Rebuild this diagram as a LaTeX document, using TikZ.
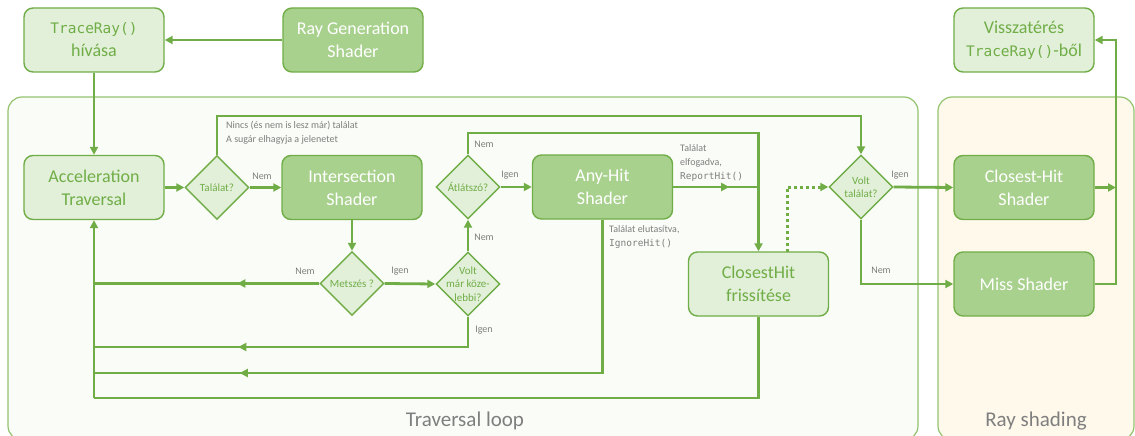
\documentclass[tikz,border=0pt]{standalone}
\usepackage{fontspec}
\setmainfont{Carlito}
\newfontfamily\codefont{DejaVu Sans Mono}
\usetikzlibrary{arrows.meta,shapes.geometric,decorations.markings}

\definecolor{gline}{HTML}{70AD47}
\definecolor{gfill}{HTML}{E2F0D9}
\definecolor{gdark}{HTML}{A9D18E}
\definecolor{gtext}{HTML}{70AD47}
\definecolor{ggray}{HTML}{7F7F7F}
\definecolor{loopfill}{HTML}{FAFCF7}
\definecolor{shadefill}{HTML}{FFF9EC}
\definecolor{framecol}{HTML}{92C36F}

\begin{document}
\begin{tikzpicture}[x=1pt,y=-1pt,
  box/.style={draw=gline, line width=1.4pt, rounded corners=9pt,
    minimum width=140pt, minimum height=64pt, align=center,
    font=\fontsize{18}{23}\selectfont, inner sep=0pt},
  lightbox/.style={box, fill=gfill, text=gtext},
  darkbox/.style={box, fill=gdark, text=white},
  decision/.style={diamond, draw=gline, line width=1.4pt, fill=gfill,
    minimum width=64pt, minimum height=64pt, inner sep=0pt},
  dtext/.style={text=gtext, font=\fontsize{11}{13.5}\selectfont,
    align=center, inner sep=0pt},
  lbl/.style={text=ggray, font=\fontsize{10}{14}\selectfont,
    align=left, inner sep=0pt},
  region/.style={draw=framecol, line width=1.2pt, rounded corners=14pt},
  regionlbl/.style={text=ggray, font=\fontsize{21}{24}\selectfont, inner sep=0pt},
  line/.style={draw=gline, line width=2.8pt},
  conn/.style={line, -{Triangle[length=8pt,width=8pt]}},
  marrow/.style={postaction={decorate}, decoration={markings,
    mark=at position #1 with {\arrow{Triangle[length=8pt,width=8pt]}}}},
  dotline/.style={draw=gline, line width=3pt, dash pattern=on 3pt off 3pt,
    -{Triangle[length=8pt,width=8pt]}}
]
\useasboundingbox (0,0) rectangle (1135,436);
\fill[white] (0,0) rectangle (1135,436);

% background regions
\begin{scope}
  \clip (0,0) rectangle (1135,436);
  \draw[region, fill=loopfill] (8,97) rectangle (918,440);
  \draw[region, fill=shadefill] (938,97) rectangle (1134,440);
\end{scope}
\node[regionlbl] (looplbl) at (465,421) {Traversal loop};
\node[regionlbl] (shadelbl) at (1036,421) {Ray shading};

% boxes
\node[lightbox] (tr) at (94,40) {{\codefont\fontsize{14.5}{18}\selectfont TraceRay()}\\hívása};
\node[darkbox] (rg) at (353,40) {Ray Generation\\Shader};
\node[lightbox] (vis) at (1024,40) {Visszatérés\\{\codefont\fontsize{14.5}{18}\selectfont TraceRay()}-ből};
\node[lightbox] (acc) at (94,187.5) {Acceleration\\Traversal};
\node[darkbox] (is) at (352,187.5) {Intersection\\Shader};
\node[darkbox] (ah) at (602.5,187) {Any-Hit\\Shader};
\node[lightbox] (ch) at (758.5,284) {ClosestHit\\frissítése};
\node[darkbox] (chs) at (1024,187.5) {Closest-Hit\\Shader};
\node[darkbox] (miss) at (1024,284) {Miss Shader};

% decisions
\node[decision] (d1) at (217,187.5) {};
\node[dtext] (d1t) at (d1) {Találat?};
\node[decision] (d2) at (352,283.5) {};
\node[dtext] (d2t) at (d2) {Metszés ?};
\node[decision] (d3) at (468,284) {};
\node[dtext] (d3t) at (d3) {Volt\\már köze-\\lebbi?};
\node[decision] (d5) at (468,187) {};
\node[dtext] (d5t) at (d5) {Átlátszó?};
\node[decision] (d4) at (861,187) {};
\node[dtext] (d4t) at (d4) {Volt\\találat?};

% bend points
\coordinate (k1) at (94,347);
\coordinate (k2) at (94,373);
\coordinate (k3) at (94,398);
\coordinate (k4) at (861,116);
\coordinate (k5) at (758.5,133);
\coordinate (k6) at (787,252);
\coordinate (k7) at (1116,40);

% connectors
\draw[conn] (rg.west) -- (tr.east);
\draw[conn] (tr.south) -- (acc.north);
\draw[conn] (acc.east) -- (d1.west);
\draw[conn] (d1.east) -- (is.west);
\draw[conn] (d1.north) |- (k4) -- (d4.north);
\draw[conn] (is.south) -- (d2.north);
\draw[line, marrow=82pt] (d2.west) -- (d2.west -| acc.south);
\draw[conn] (d2.east) -- (d3.west);
\draw[conn] (d3.north) -- (d5.south);
\draw[line, marrow=260pt] (d3.south) |- (k1);
\draw[conn] (d5.east) -- (ah.west);
\draw[conn] (d5.north) |- (k5) -- (ch.north);
\draw[line, marrow=56pt] (ah.east) -- (ah.east -| ch.north);
\draw[line, marrow=516pt] (ah.south) |- (k2);
\draw[line] (ch.south) |- (k3);
\draw[conn] (k3) -- (acc.south);
\draw[dotline] (k6) |- (d4.west);
\draw[conn] (d4.east) -- (chs.west);
\draw[conn] (d4.south) |- (miss.west);
\draw[conn] (chs.east) -- (chs.east -| k7);
\draw[conn] (miss.east) -| (k7) -- (vis.east);

% labels
\node[lbl, anchor=west] (l1) at (226,133) {Nincs (és nem is lesz már) találat\\A sugár elhagyja a jelenetet};
\node[lbl] (l2) at (262,176) {Nem};
\node[lbl] (l3) at (305,271) {Nem};
\node[lbl] (l4) at (400,271) {Igen};
\node[lbl] (l5) at (484,237) {Nem};
\node[lbl] (l6) at (484,330) {Igen};
\node[lbl] (l7) at (484,144) {Nem};
\node[lbl] (l8) at (510,175) {Igen};
\node[lbl, anchor=west] (l9) at (680,163) {Találat\\elfogadva,\\{\codefont\fontsize{9.5}{14}\selectfont ReportHit()}};
\node[lbl, anchor=west] (l10) at (609,237.5) {Találat elutasítva,\\{\codefont\fontsize{9.5}{14}\selectfont IgnoreHit()}};
\node[lbl] (l11) at (900,175) {Igen};
\node[lbl] (l12) at (881,270) {Nem};
\end{tikzpicture}
\end{document}
